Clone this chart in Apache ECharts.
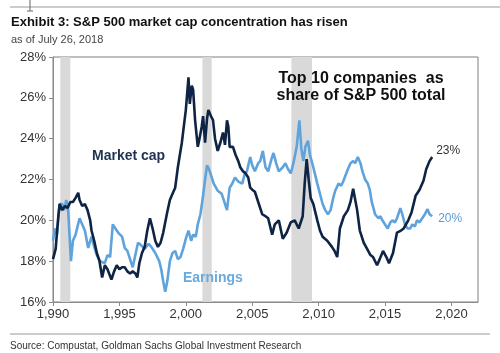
<!DOCTYPE html>
<html>
<head>
<meta charset="utf-8">
<script src="https://cdn.jsdelivr.net/npm/echarts@6/dist/echarts.min.js"></script>
<style>
  html, body { margin: 0; padding: 0; background: #fff; }
  #chart { width: 500px; height: 353px; }
</style>
</head>
<body>
<div id="chart"></div>
<script>
// top 10 share of S&P 500 market cap, % (year, value)
var mcapYears = [1990.0, 1990.2, 1990.4, 1990.5, 1990.7, 1990.9, 1991.1, 1991.3, 1991.5, 1991.7, 1991.9, 1992.0, 1992.2, 1992.4, 1992.6, 1992.8, 1992.9,
    1993.1, 1993.3, 1993.5, 1993.7, 1993.9, 1994.1, 1994.4, 1994.6, 1994.8, 1995.0, 1995.2, 1995.4, 1995.6, 1995.8, 1996.0, 1996.2, 1996.35,
    1996.5, 1996.7, 1996.9, 1997.1, 1997.3, 1997.5, 1997.7, 1997.9, 1998.1, 1998.3, 1998.6, 1998.8, 1999.0, 1999.2, 1999.4, 1999.7, 1999.85,
    2000.0, 2000.2, 2000.3, 2000.45, 2000.55, 2000.7, 2000.9, 2001.0, 2001.2, 2001.3, 2001.45, 2001.6, 2001.7, 2001.9, 2002.05, 2002.2, 2002.4,
    2002.6, 2002.8, 2002.95, 2003.1, 2003.2, 2003.3, 2003.55, 2003.75, 2003.95, 2004.1, 2004.3, 2004.5, 2004.7, 2004.85, 2005.0, 2005.2, 2005.5,
    2005.75, 2006.0, 2006.2, 2006.5, 2006.7, 2007.0, 2007.3, 2007.6, 2007.9, 2008.2, 2008.5, 2008.8, 2008.95, 2009.1, 2009.25, 2009.4, 2009.6,
    2009.9, 2010.1, 2010.3, 2010.65, 2011.0, 2011.2, 2011.4, 2011.6, 2011.9, 2012.2, 2012.4, 2012.6, 2012.9, 2013.1, 2013.4, 2013.65, 2013.9,
    2014.1, 2014.4, 2014.6, 2014.85, 2015.1, 2015.3, 2015.6, 2015.9, 2016.2, 2016.4, 2016.75, 2017.0, 2017.3, 2017.6, 2017.9, 2018.1, 2018.35, 2018.55];
var mcapValues = [18.1, 18.6, 20.2, 20.8, 20.5, 20.7, 20.6, 20.9, 20.9, 21.1, 21.35, 21.0, 20.7, 20.8, 20.5, 20.0, 19.5,
    19.0, 18.4, 18.0, 17.2, 17.8, 17.6, 17.1, 17.5, 17.8, 17.6, 17.7, 17.7, 17.5, 17.4, 17.5, 17.4, 17.2,
    17.9, 18.4, 18.7, 19.5, 20.1, 19.6, 19.0, 18.7, 18.9, 19.4, 20.4, 21.0, 21.3, 21.6, 22.6, 23.8, 24.6,
    25.4, 27.0, 25.7, 26.6, 26.4, 24.9, 23.6, 23.9, 24.6, 25.1, 23.8, 25.0, 25.4, 25.1, 24.9, 24.0, 23.4,
    23.8, 24.3, 23.7, 24.9, 24.6, 23.6, 23.6, 23.2, 22.9, 22.6, 22.4, 22.3, 22.1, 21.6, 21.5, 21.4, 20.8,
    20.3, 20.2, 20.1, 19.3, 19.8, 20.0, 19.1, 19.4, 19.9, 20.0, 19.6, 20.2, 21.8, 23.0, 22.0, 21.1, 20.8,
    20.0, 19.5, 19.2, 19.0, 18.7, 18.5, 18.2, 19.6, 20.2, 20.5, 20.9, 21.55, 20.5, 19.5, 18.9, 18.6, 18.3,
    18.2, 17.8, 18.1, 18.5, 18.2, 17.9, 18.4, 19.4, 19.5, 19.6, 20.0, 20.4, 21.2, 21.5, 21.95, 22.5, 22.9, 23.1];

// top 10 share of S&P 500 earnings, %
var earnYears = [1990.0, 1990.15, 1990.3, 1990.5, 1990.7, 1990.85, 1991.0, 1991.15, 1991.35, 1991.5, 1991.7, 1992.0, 1992.2, 1992.4, 1992.65, 1992.9,
    1993.1, 1993.3, 1993.55, 1993.9, 1994.1, 1994.3, 1994.5, 1994.7, 1994.9, 1995.2, 1995.4, 1995.6, 1996.0, 1996.2, 1996.4, 1996.6, 1996.9,
    1997.2, 1997.4, 1997.7, 1998.0, 1998.15, 1998.3, 1998.45, 1998.6, 1998.8, 1999.0, 1999.2, 1999.4, 1999.6, 1999.8, 2000.0, 2000.2, 2000.4,
    2000.55, 2000.75, 2000.9, 2001.1, 2001.3, 2001.45, 2001.6, 2001.75, 2001.9, 2002.1, 2002.4, 2002.7, 2002.9, 2003.1, 2003.3, 2003.5, 2003.7,
    2003.95, 2004.25, 2004.45, 2004.6, 2004.85, 2005.0, 2005.2, 2005.45, 2005.6, 2005.8, 2006.0, 2006.2, 2006.45, 2006.6, 2006.8, 2007.0, 2007.3,
    2007.5, 2007.7, 2007.9, 2008.1, 2008.35, 2008.55, 2008.7, 2008.85, 2009.0, 2009.2, 2009.35, 2009.6, 2009.75, 2009.9, 2010.1, 2010.3, 2010.5,
    2010.7, 2010.9, 2011.1, 2011.25, 2011.5, 2011.7, 2011.85, 2012.0, 2012.2, 2012.4, 2012.6, 2012.75, 2012.95, 2013.15, 2013.3, 2013.5, 2013.7,
    2013.85, 2014.0, 2014.25, 2014.5, 2014.65, 2014.8, 2015.0, 2015.2, 2015.4, 2015.55, 2015.75, 2015.9, 2016.15, 2016.3, 2016.5, 2016.7, 2016.9,
    2017.05, 2017.25, 2017.4, 2017.6, 2017.8, 2018.0, 2018.2, 2018.35, 2018.55];
var earnValues = [19.0, 19.6, 19.3, 20.8, 20.8, 20.5, 21.0, 20.4, 18.0, 19.0, 19.3, 20.1, 19.8, 19.5, 18.65, 19.2,
    18.7, 18.3, 18.0, 17.9, 18.3, 18.2, 19.8, 19.6, 19.4, 19.2, 18.65, 18.5, 17.7, 18.3, 18.9, 18.8, 18.6,
    18.85, 18.7, 18.4, 18.0, 17.6, 17.0, 16.5, 17.0, 18.0, 18.4, 18.5, 18.1, 18.2, 18.6, 19.1, 19.5, 19.0,
    19.3, 19.2, 19.8, 20.3, 21.2, 22.0, 22.7, 22.5, 22.2, 21.8, 21.45, 21.3, 20.9, 20.5, 21.6, 21.8, 22.1,
    21.9, 21.8, 22.3, 22.4, 23.1, 22.7, 22.4, 22.8, 22.9, 23.4, 22.6, 22.4, 23.0, 23.3, 22.8, 22.4, 22.6,
    22.8, 22.5, 22.3, 22.8, 23.6, 24.9, 23.5, 22.9, 23.6, 23.9, 23.2, 22.6, 22.2, 21.8, 21.3, 20.8, 20.5,
    20.3, 20.5, 21.1, 21.45, 21.8, 21.7, 21.9, 21.9, 22.5, 22.8, 22.9, 22.8, 23.1, 22.8, 22.4, 22.0, 21.8,
    21.5, 20.9, 20.3, 20.1, 20.2, 20.0, 19.8, 19.6, 19.9, 20.0, 19.9, 20.1, 20.6, 20.3, 19.8, 19.6, 19.6,
    19.8, 19.7, 20.0, 19.9, 20.1, 20.3, 20.55, 20.3, 20.2];

// recessions (start, end)
var recessions = [[1990.55, 1991.3], [2001.25, 2001.95], [2007.95, 2009.5]];

var yearTicks = [1990, 1995, 2000, 2005, 2010, 2015, 2020];

function pairs(xs, ys) {
    var out = [];
    for (var i = 0; i < xs.length; i++) {
        out.push([xs[i], ys[i]]);
    }
    return out;
}

var font = 'Arial, "Liberation Sans", sans-serif';

var option = {
    animation: false,
    grid: {
        left: 53, right: 22, top: 57, bottom: 51,
        show: true, borderColor: '#7f7f7f', borderWidth: 1
    },
    xAxis: {
        type: 'value', min: 1990, max: 2022,
        splitLine: {show: false},
        axisLine: {lineStyle: {color: '#8c8c8c'}},
        axisTick: {length: 4, lineStyle: {color: '#8c8c8c'}, customValues: yearTicks},
        axisLabel: {fontFamily: font, fontSize: 13, color: '#333', margin: 6, customValues: yearTicks}
    },
    yAxis: {
        type: 'value', min: 16, max: 28, interval: 2,
        splitLine: {show: false},
        axisLine: {show: true, lineStyle: {color: '#8c8c8c'}},
        axisTick: {show: true, length: 4, lineStyle: {color: '#8c8c8c'}},
        axisLabel: {fontFamily: font, fontSize: 13, color: '#333', margin: 7, formatter: '{value}%'}
    },
    graphic: [
        {type: 'line', z: 100, shape: {x1: 10, y1: 7, x2: 500, y2: 7}, style: {stroke: '#999', lineWidth: 1}},
        {type: 'line', z: 100, shape: {x1: 30, y1: 0, x2: 30, y2: 11}, style: {stroke: '#666', lineWidth: 1}},
        {type: 'line', z: 100, shape: {x1: 27, y1: 11, x2: 33, y2: 11}, style: {stroke: '#666', lineWidth: 1}},
        {type: 'text', z: 100, left: 11, top: 16, style: {text: 'Exhibit 3: S&P 500 market cap concentration has risen', fontFamily: font, fontSize: 13, fontWeight: 'bold', fill: '#111'}},
        {type: 'text', z: 100, left: 11, top: 34, style: {text: 'as of July 26, 2018', fontFamily: font, fontSize: 11, fill: '#444'}},
        {type: 'text', z: 100, x: 361, y: 70, style: {text: 'Top 10 companies  as\nshare of S&P 500 total', fontFamily: font, fontSize: 16, fontWeight: 'bold', fill: '#111', align: 'center', lineHeight: 17}},
        {type: 'text', z: 100, left: 92, top: 149, style: {text: 'Market cap', fontFamily: font, fontSize: 14, fontWeight: 'bold', fill: '#1f3350'}},
        {type: 'text', z: 100, left: 183, top: 271, style: {text: 'Earnings', fontFamily: font, fontSize: 14, fontWeight: 'bold', fill: '#6aa9dc'}},
        {type: 'line', z: 100, shape: {x1: 10, y1: 334, x2: 490, y2: 334}, style: {stroke: '#999', lineWidth: 1}},
        {type: 'text', z: 100, left: 10, top: 341, style: {text: 'Source: Compustat, Goldman Sachs Global Investment Research', fontFamily: font, fontSize: 10, fill: '#333'}}
    ],
    series: [
        {
            type: 'line', data: [], z: 1,
            markArea: {
                silent: true,
                itemStyle: {color: '#d9d9d9'},
                data: recessions.map(function (r) { return [{xAxis: r[0]}, {xAxis: r[1]}]; })
            }
        },
        {
            name: 'Earnings', type: 'line', z: 3, symbol: 'none',
            lineStyle: {color: '#5fa3dc', width: 2.6},
            data: pairs(earnYears, earnValues),
            endLabel: {
                show: true, distance: 6, offset: [0, 2],
                fontFamily: font, fontSize: 12, color: '#5b9bd5',
                formatter: function (p) { return Math.round(p.value[1]) + '%'; }
            }
        },
        {
            name: 'Market cap', type: 'line', z: 4, symbol: 'none',
            lineStyle: {color: '#0e2444', width: 2.6},
            data: pairs(mcapYears, mcapValues),
            endLabel: {
                show: true, distance: 4, offset: [0, -6],
                fontFamily: font, fontSize: 12, color: '#333',
                formatter: function (p) { return Math.round(p.value[1]) + '%'; }
            }
        }
    ]
};

var chart = echarts.init(document.getElementById('chart'));
chart.setOption(option);
</script>
</body>
</html>
